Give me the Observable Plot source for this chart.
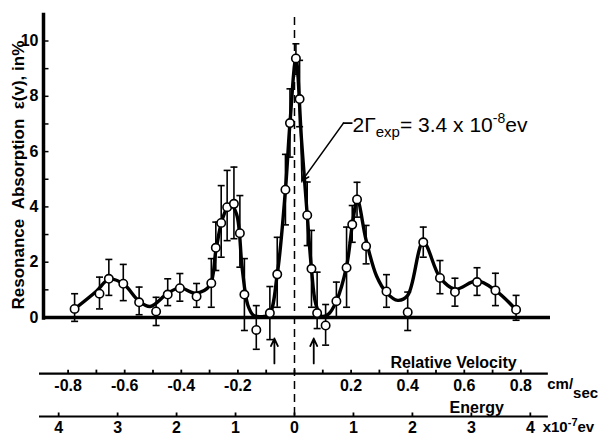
<!DOCTYPE html>
<html>
<head>
<meta charset="utf-8">
<script src="https://cdn.jsdelivr.net/npm/d3@7"></script>
<script src="https://cdn.jsdelivr.net/npm/@observablehq/plot@0.6"></script>
<style>
  html, body { margin: 0; padding: 0; background: white; }
  #chart { width: 602px; height: 436px; }
</style>
</head>
<body>
<div id="chart"></div>
<script>
// ---- data ----
// relative velocity (cm/sec) of each measured point
const pointV = [-0.777,-0.689,-0.656,-0.605,-0.549,-0.489,-0.448,-0.405,-0.346,-0.294,-0.278,-0.259,-0.238,-0.214,-0.193,-0.177,-0.135,-0.087,-0.061,-0.032,-0.016,0.005,0.018,0.045,0.060,0.080,0.110,0.148,0.184,0.204,0.221,0.253,0.325,0.400,0.455,0.514,0.567,0.645,0.710,0.783];
// resonance absorption (%)
const pointY = [0.31,0.86,1.40,1.22,0.55,0.22,0.83,1.06,0.76,1.24,2.52,3.42,3.99,4.11,3.05,0.83,-0.45,0.16,1.56,4.62,7.03,9.37,7.90,3.70,1.76,0.16,-0.29,0.59,1.80,3.36,4.27,2.58,0.94,0.19,2.72,1.43,0.92,1.28,0.98,0.28];
const errLo = [-0.14,0.31,0.80,0.61,0.10,-0.29,0.43,0.59,0.37,0.37,1.70,2.18,2.78,2.85,1.82,-0.47,-1.15,-0.80,0.37,3.35,5.80,8.80,6.90,2.60,0.37,-0.40,-1.00,0.00,0.37,2.72,3.63,1.94,0.37,-0.47,2.18,0.86,0.41,0.80,0.43,-0.10];
const errHi = [0.86,1.46,2.10,1.92,1.10,0.73,1.40,1.59,1.23,2.13,3.45,4.77,5.32,5.44,4.41,2.13,0.43,1.12,2.90,5.90,8.27,9.90,9.30,4.90,3.15,1.64,0.47,1.28,3.27,4.05,4.89,3.33,1.55,0.92,3.27,2.06,1.42,1.80,1.60,0.80];

// smooth drawn curve
const curveV = [-0.777,-0.70,-0.656,-0.605,-0.55,-0.51,-0.45,-0.405,-0.35,-0.30,-0.278,-0.255,-0.228,-0.205,-0.185,-0.165,-0.145,-0.12,-0.09,-0.061,-0.032,-0.016,0.005,0.025,0.045,0.060,0.075,0.095,0.12,0.148,0.184,0.205,0.222,0.253,0.29,0.325,0.365,0.40,0.455,0.514,0.567,0.645,0.710,0.783];
const curveY = [0.31,0.95,1.38,1.22,0.60,0.40,0.86,1.07,0.88,1.15,2.40,3.55,4.10,3.75,1.80,0.45,0.08,0.03,0.10,1.56,4.62,7.03,9.37,6.40,3.70,1.76,0.50,0.05,0.12,0.59,1.85,3.40,4.25,2.80,1.50,0.90,0.62,0.80,2.72,1.45,1.02,1.33,0.98,0.28];
// thin line joining the peak points on its right side
const thinV = [0.005,0.018,0.026];
const thinY = [9.37,7.90,4.90];

// arrows under the baseline (velocity)
const arrowV = [-0.071,0.068];

// ticks
const yTickLabels = [0,2,4,6,8,10];
const yTicks = [1,2,3,4,5,6,7,8,9,10];
const velTicks = [-0.8,-0.7,-0.6,-0.5,-0.4,-0.3,-0.2,-0.1,0,0.1,0.2,0.3,0.4,0.5,0.6,0.7,0.8];
const velLabels = [-0.8,-0.6,-0.4,-0.2,0.2,0.4,0.6,0.8];
const energyTicks = [-4,-3,-2,-1,0,1,2,3,4];           // x 10^-7 ev
const evPerVelocity = 4.8;                              // 10^-7 ev per cm/sec

// ---- layout constants (data units) ----
const xDomain = [-0.8869, 0.9046];
const yDomain = [-4.304, 11.465];
const velLevel = -2.03;
const enLevel = -3.58;
const axisLeft = -0.901, axisRight = 0.897;

const F = "'Liberation Sans', Arial, Helvetica, sans-serif";

const pts = pointV.map((v, i) => ({v, y: pointY[i], lo: errLo[i], hi: errHi[i]}));
const curve = curveV.map((v, i) => ({v, y: curveY[i]}));
const thin = thinV.map((v, i) => ({v, y: thinY[i]}));

const capSym = {draw(c) { c.moveTo(-3.5, 0); c.lineTo(3.5, 0); }};
const yTickSym = {draw(c) { c.moveTo(0, 0); c.lineTo(5, 0); }};
const xTickSym = {draw(c) { c.moveTo(0, 0); c.lineTo(0, -4); }};

const chart = Plot.plot({
  width: 602,
  height: 436,
  marginLeft: 43,
  marginRight: 52,
  marginTop: 0,
  marginBottom: 0,
  x: {domain: xDomain, axis: null},
  y: {domain: yDomain, axis: null},
  style: {fontFamily: F, background: "white", color: "black", overflow: "visible"},
  marks: [
    // dashed zero-velocity line
    Plot.ruleX([0], {y1: -3.54, y2: 10.96, stroke: "black", strokeWidth: 1.5, strokeDasharray: "8,5"}),
    // y axis
    Plot.ruleX([xDomain[0]], {y1: -0.1, y2: 11.0, stroke: "black", strokeWidth: 3.5}),
    Plot.dot(yTicks, {x: () => xDomain[0], y: d => d, symbol: yTickSym, stroke: "black", strokeWidth: 1.5, fill: "none"}),
    Plot.axisY(yTickLabels, {anchor: "left", tickSize: 0, tickPadding: 5, fontSize: 16, fontWeight: "bold", label: null, fill: "black"}),
    // baseline
    Plot.ruleY([0], {x1: xDomain[0], x2: xDomain[1], stroke: "black", strokeWidth: 3.5}),
    // velocity axis
    Plot.ruleY([velLevel], {x1: axisLeft, x2: axisRight, stroke: "black", strokeWidth: 2.2}),
    Plot.dot(velTicks, {x: d => d, y: () => velLevel, symbol: xTickSym, stroke: "black", strokeWidth: 1.8, fill: "none"}),
    Plot.text(velLabels, {x: d => d, y: () => velLevel, text: d => String(d), dy: 12, fontSize: 16, fontWeight: "bold", fill: "black"}),
    Plot.text(["Relative Velocity"], {x: () => 0.562, y: () => velLevel, dy: -11, fontSize: 16, fontWeight: "bold", fill: "black"}),
    Plot.text(["cm/sec"], {x: () => 0.893, y: () => velLevel, dy: 11, textAnchor: "start", fontSize: 15, fontWeight: "bold", fill: "black"}),
    // energy axis
    Plot.ruleY([enLevel], {x1: axisLeft, x2: axisRight, stroke: "black", strokeWidth: 2.2}),
    Plot.dot(energyTicks, {x: d => d / evPerVelocity, y: () => enLevel, symbol: xTickSym, stroke: "black", strokeWidth: 1.8, fill: "none"}),
    Plot.text(energyTicks, {x: d => d / evPerVelocity, y: () => enLevel, text: d => String(Math.abs(d)), dy: 11, fontSize: 16, fontWeight: "bold", fill: "black"}),
    Plot.text(["Energy"], {x: () => 0.644, y: () => enLevel, dy: -9, fontSize: 16, fontWeight: "bold", fill: "black"}),
    Plot.text(["x10-7ev"], {x: () => 0.877, y: () => enLevel, dy: 11, textAnchor: "start", fontSize: 15, fontWeight: "bold", fill: "black"}),
    // arrows
    Plot.arrow(arrowV, {x: d => d, y1: () => -1.66, y2: () => -0.76, stroke: "black", strokeWidth: 1.8, headLength: 7, headAngle: 50}),
    // error bars
    Plot.ruleX(pts, {x: "v", y1: "lo", y2: "hi", stroke: "black", strokeWidth: 1.6}),
    Plot.dot(pts, {x: "v", y: "lo", symbol: capSym, stroke: "black", strokeWidth: 1.6, fill: "none"}),
    Plot.dot(pts, {x: "v", y: "hi", symbol: capSym, stroke: "black", strokeWidth: 1.6, fill: "none"}),
    // curves
    Plot.line(curve, {x: "v", y: "y", curve: "catmull-rom", stroke: "black", strokeWidth: 3.4}),
    Plot.line(thin, {x: "v", y: "y", stroke: "black", strokeWidth: 1.3}),
    // points
    Plot.dot(pts, {x: "v", y: "y", r: 4.2, fill: "white", stroke: "black", strokeWidth: 1.6}),
    // annotation
    Plot.line([[0.203, 7.03], [0.173, 7.03]], {x: d => d[0], y: d => d[1], stroke: "black", strokeWidth: 1.6}),
    Plot.arrow([[0.173, 7.03, 0.027, 4.95]], {x1: d => d[0], y1: d => d[1], x2: d => d[2], y2: d => d[3], stroke: "black", strokeWidth: 1.6, headLength: 7, headAngle: 50}),
    Plot.text(["2Γexp = 3.4 x 10-8 ev"], {x: () => 0.205, y: () => 6.95, textAnchor: "start", fontSize: 21, fill: "black"}),
    // y title
    Plot.text(["Resonance\u00a0\u00a0Absorption\u00a0\u00a0ε(v), in%"], {x: () => -0.975, y: () => 5.15, rotate: -90, fontSize: 17, fontWeight: "bold", fill: "black"})
  ]
});

function rich(svg, key, parts) {
  d3.select(svg).selectAll("text").filter(function () { return this.textContent === key; }).each(function () {
    const el = d3.select(this);
    el.text(null);
    let cur = 0;
    for (const p of parts) {
      const ts = el.append("tspan").text(p.t);
      if (p.size) ts.attr("font-size", p.size);
      const shift = p.shift || 0;
      if (shift !== cur) { ts.attr("dy", shift - cur); cur = shift; }
    }
  });
}
rich(chart, "2Γexp = 3.4 x 10-8 ev", [
  {t: "2Γ"}, {t: "exp", size: 15, shift: 5}, {t: "= 3.4 x 10", shift: 0}, {t: "-8", size: 14, shift: -9}, {t: "ev", shift: 0}
]);
rich(chart, "x10-7ev", [
  {t: "x10"}, {t: "-7", size: 11, shift: -6}, {t: "ev", shift: 0}
]);
rich(chart, "cm/sec", [
  {t: "cm/"}, {t: "sec", size: 15, shift: 9}
]);

document.getElementById("chart").appendChild(chart);
</script>
</body>
</html>
